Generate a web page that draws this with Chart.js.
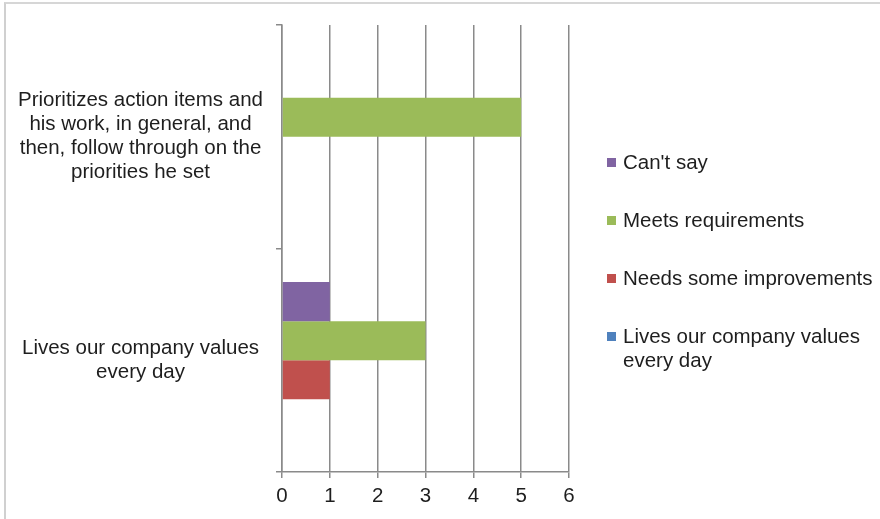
<!DOCTYPE html>
<html>
<head>
<meta charset="utf-8">
<title>Performance review</title>
<script src="https://cdn.jsdelivr.net/npm/chart.js@4.4.1/dist/chart.umd.min.js"></script>
<style>
    html, body { margin: 0; padding: 0; background: #fff; }
    #wrap { position: relative; width: 880px; height: 519px; overflow: hidden; }
    #frame {
        position: absolute; left: 4px; top: 2px; right: -10px; bottom: -10px;
        border-top: 2px solid #d6d6d6; border-left: 2px solid #d0d0d0;
        pointer-events: none;
    }
    canvas { position: absolute; left: 0; top: 0; }
</style>
</head>
<body>
<div id="wrap">
    <canvas id="reviewChart" width="880" height="519"></canvas>
    <div id="frame"></div>
</div>
<script>
// Review questions (top to bottom) and rating counts
const categories = [
    ['Prioritizes action items and', 'his work, in general, and', 'then, follow through on the', 'priorities he set'],
    ['Lives our company values', 'every day']
];
const seriesNames = ['Can\'t say', 'Meets requirements', 'Needs some improvements', 'Lives our company values every day'];
const cantSay = [0, 1];
const meetsRequirements = [5, 3];
const needsImprovements = [0, 1];
const livesValues = [0, 0];
const xTicks = [0, 1, 2, 3, 4, 5, 6];

const seriesColors = ['#8064a2', '#9bbb59', '#c0504d', '#4f81bd'];
const FONT = "'Liberation Sans', Arial, sans-serif";
const FONT_SIZE = 20.5;
const GRID = '#8a8a8a';

// Legend on the right, with word wrapping for long series names
const sideLegend = {
    id: 'sideLegend',
    afterDraw(chart) {
        const ctx = chart.ctx;
        const x = chart.chartArea.right + 38;
        const maxWidth = chart.width - x - 16;
        let y = 163;
        ctx.save();
        ctx.font = FONT_SIZE + 'px ' + FONT;
        ctx.textBaseline = 'middle';
        chart.data.datasets.forEach(function (ds) {
            ctx.fillStyle = ds.backgroundColor;
            ctx.fillRect(x, y - 5, 9, 9);
            ctx.fillStyle = '#1e1e1e';
            const words = ds.label.split(' ');
            let line = '';
            let ly = y;
            words.forEach(function (w) {
                const test = line ? line + ' ' + w : w;
                if (ctx.measureText(test).width > maxWidth && line) {
                    ctx.fillText(line, x + 16, ly);
                    line = w;
                    ly += 24;
                } else {
                    line = test;
                }
            });
            ctx.fillText(line, x + 16, ly);
            y += 58;
        });
        ctx.restore();
    }
};

const values = [cantSay, meetsRequirements, needsImprovements, livesValues];

new Chart(document.getElementById('reviewChart'), {
    type: 'bar',
    data: {
        labels: categories,
        datasets: seriesNames.map(function (name, i) {
            return {
                label: name,
                data: values[i],
                backgroundColor: seriesColors[i],
                borderWidth: 0,
                barPercentage: 1,
                categoryPercentage: 0.7
            };
        })
    },
    options: {
        indexAxis: 'y',
        responsive: false,
        animation: false,
        layout: {
            padding: { left: 0, right: 311, top: 25, bottom: 0 }
        },
        plugins: {
            legend: { display: false },
            tooltip: { enabled: false }
        },
        scales: {
            x: {
                min: 0,
                max: 6,
                afterBuildTicks: function (scale) {
                    scale.ticks = xTicks.map(function (v) { return { value: v }; });
                },
                afterFit: function (scale) {
                    scale.height = 47;
                    scale.paddingLeft = 0;
                    scale.paddingRight = 0;
                },
                grid: {
                    color: GRID,
                    lineWidth: 1.5,
                    tickLength: 6
                },
                border: { display: true, color: GRID, width: 1.5 },
                ticks: {
                    color: '#1e1e1e',
                    padding: 6,
                    font: { family: FONT, size: FONT_SIZE }
                }
            },
            y: {
                afterFit: function (scale) {
                    scale.width = 282;
                    scale.paddingTop = 0;
                    scale.paddingBottom = 0;
                },
                grid: {
                    drawOnChartArea: false,
                    color: GRID,
                    lineWidth: 1.5,
                    tickLength: 6,
                    offset: true
                },
                border: { display: true, color: GRID, width: 1.5 },
                ticks: {
                    color: '#1e1e1e',
                    crossAlign: 'center',
                    padding: 13,
                    font: { family: FONT, size: FONT_SIZE, lineHeight: 1.17 }
                }
            }
        }
    },
    plugins: [sideLegend]
});
</script>
</body>
</html>
